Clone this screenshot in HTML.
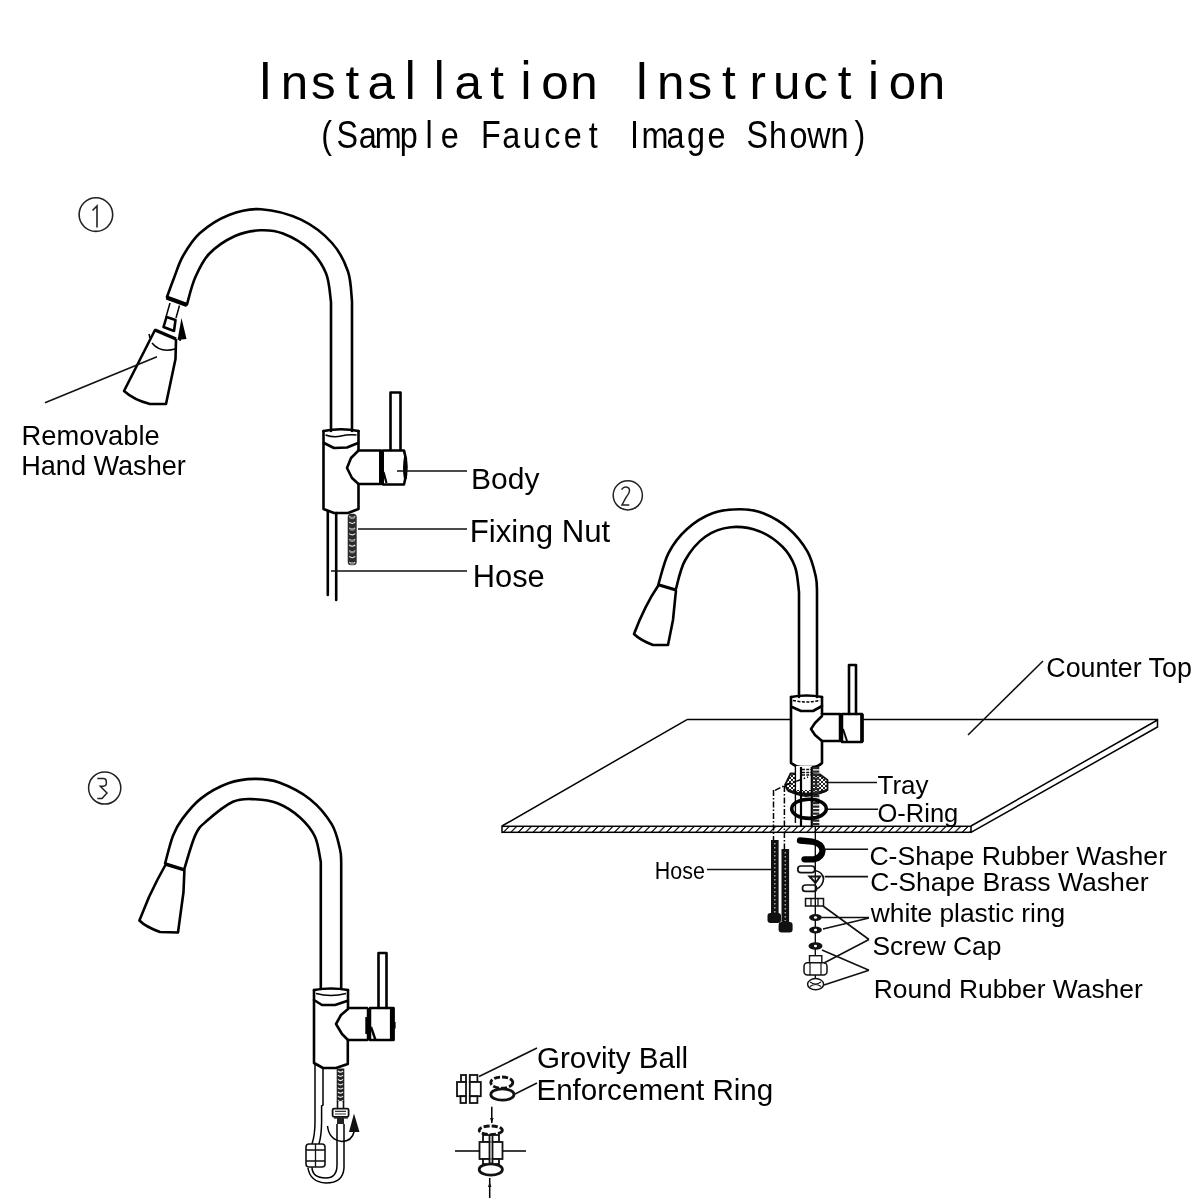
<!DOCTYPE html>
<html><head><meta charset="utf-8"><title>Installation Instruction</title>
<style>
html,body{margin:0;padding:0;background:#fff;}
body{width:1200px;height:1200px;overflow:hidden;}
svg{display:block;filter:grayscale(1);}
.t{font-family:"Liberation Sans",sans-serif;fill:#000;}
.ln{fill:none;stroke:#000;stroke-width:2.6;stroke-linejoin:round;stroke-linecap:round;}
.th{fill:none;stroke:#000;stroke-width:1.5;}
.ld{fill:none;stroke:#111;stroke-width:1.6;}
</style></head>
<body>
<svg width="1200" height="1200" viewBox="0 0 1200 1200">
<rect width="1200" height="1200" fill="#fff"/>
<!-- TITLE -->
<g id="title" class="t">
<text transform="translate(265.4,99.2) scale(0.93,1.0)" text-anchor="middle" font-size="53">I</text>
<text transform="translate(294.4,99.2) scale(0.93,0.9)" text-anchor="middle" font-size="53">n</text>
<text transform="translate(323.3,99.2) scale(0.93,0.9)" text-anchor="middle" font-size="53">s</text>
<text transform="translate(352.3,99.2) scale(0.93,0.9)" text-anchor="middle" font-size="53">t</text>
<text transform="translate(381.2,99.2) scale(0.93,0.9)" text-anchor="middle" font-size="53">a</text>
<text transform="translate(410.2,99.2) scale(0.93,1.0)" text-anchor="middle" font-size="53">l</text>
<text transform="translate(439.2,99.2) scale(0.93,1.0)" text-anchor="middle" font-size="53">l</text>
<text transform="translate(468.1,99.2) scale(0.93,0.9)" text-anchor="middle" font-size="53">a</text>
<text transform="translate(497.1,99.2) scale(0.93,0.9)" text-anchor="middle" font-size="53">t</text>
<text transform="translate(526.0,99.2) scale(0.93,1.0)" text-anchor="middle" font-size="53">i</text>
<text transform="translate(555.0,99.2) scale(0.93,0.9)" text-anchor="middle" font-size="53">o</text>
<text transform="translate(584.0,99.2) scale(0.93,0.9)" text-anchor="middle" font-size="53">n</text>
<text transform="translate(641.9,99.2) scale(0.93,1.0)" text-anchor="middle" font-size="53">I</text>
<text transform="translate(670.8,99.2) scale(0.93,0.9)" text-anchor="middle" font-size="53">n</text>
<text transform="translate(699.8,99.2) scale(0.93,0.9)" text-anchor="middle" font-size="53">s</text>
<text transform="translate(728.8,99.2) scale(0.93,0.9)" text-anchor="middle" font-size="53">t</text>
<text transform="translate(757.7,99.2) scale(0.93,0.9)" text-anchor="middle" font-size="53">r</text>
<text transform="translate(786.7,99.2) scale(0.93,0.9)" text-anchor="middle" font-size="53">u</text>
<text transform="translate(815.6,99.2) scale(0.93,0.9)" text-anchor="middle" font-size="53">c</text>
<text transform="translate(844.6,99.2) scale(0.93,0.9)" text-anchor="middle" font-size="53">t</text>
<text transform="translate(873.6,99.2) scale(0.93,1.0)" text-anchor="middle" font-size="53">i</text>
<text transform="translate(902.5,99.2) scale(0.93,0.9)" text-anchor="middle" font-size="53">o</text>
<text transform="translate(931.5,99.2) scale(0.93,0.9)" text-anchor="middle" font-size="53">n</text>
<text transform="translate(326.7,148.4) scale(0.84,1.0)" text-anchor="middle" font-size="38.5">(</text>
<text transform="translate(347.2,148.4) scale(0.84,1.0)" text-anchor="middle" font-size="38.5">S</text>
<text transform="translate(367.7,148.4) scale(0.84,0.96)" text-anchor="middle" font-size="38.5">a</text>
<text transform="translate(388.2,148.4) scale(0.84,0.96)" text-anchor="middle" font-size="38.5">m</text>
<text transform="translate(408.7,148.4) scale(0.84,0.96)" text-anchor="middle" font-size="38.5">p</text>
<text transform="translate(429.2,148.4) scale(0.84,1.0)" text-anchor="middle" font-size="38.5">l</text>
<text transform="translate(449.8,148.4) scale(0.84,0.96)" text-anchor="middle" font-size="38.5">e</text>
<text transform="translate(490.8,148.4) scale(0.84,1.0)" text-anchor="middle" font-size="38.5">F</text>
<text transform="translate(511.3,148.4) scale(0.84,0.96)" text-anchor="middle" font-size="38.5">a</text>
<text transform="translate(531.8,148.4) scale(0.84,0.96)" text-anchor="middle" font-size="38.5">u</text>
<text transform="translate(552.3,148.4) scale(0.84,0.96)" text-anchor="middle" font-size="38.5">c</text>
<text transform="translate(572.8,148.4) scale(0.84,0.96)" text-anchor="middle" font-size="38.5">e</text>
<text transform="translate(593.3,148.4) scale(0.84,0.96)" text-anchor="middle" font-size="38.5">t</text>
<text transform="translate(634.4,148.4) scale(0.84,1.0)" text-anchor="middle" font-size="38.5">I</text>
<text transform="translate(654.9,148.4) scale(0.84,0.96)" text-anchor="middle" font-size="38.5">m</text>
<text transform="translate(675.4,148.4) scale(0.84,0.96)" text-anchor="middle" font-size="38.5">a</text>
<text transform="translate(695.9,148.4) scale(0.84,0.96)" text-anchor="middle" font-size="38.5">g</text>
<text transform="translate(716.4,148.4) scale(0.84,0.96)" text-anchor="middle" font-size="38.5">e</text>
<text transform="translate(757.4,148.4) scale(0.84,1.0)" text-anchor="middle" font-size="38.5">S</text>
<text transform="translate(777.9,148.4) scale(0.84,0.96)" text-anchor="middle" font-size="38.5">h</text>
<text transform="translate(798.4,148.4) scale(0.84,0.96)" text-anchor="middle" font-size="38.5">o</text>
<text transform="translate(818.9,148.4) scale(0.84,0.96)" text-anchor="middle" font-size="38.5">w</text>
<text transform="translate(839.5,148.4) scale(0.84,0.96)" text-anchor="middle" font-size="38.5">n</text>
<text transform="translate(860.0,148.4) scale(0.84,1.0)" text-anchor="middle" font-size="38.5">)</text>
</g>
<!-- FAUCET 1 -->
<g id="f1">
<circle cx="95.9" cy="214.6" r="16.8" fill="none" stroke="#222" stroke-width="1.6"/>
<path d="M92.5,210.5 L97,206 V227.5" fill="none" stroke="#222" stroke-width="1.6"/>
<!-- spout -->
<path class="ln" d="M167.0,297.0 C168.2,293.8 171.3,284.8 174.0,278.0 C176.7,271.2 178.7,263.5 183.0,256.0 C187.3,248.5 192.3,239.8 200.0,233.0 C207.7,226.2 218.8,219.0 229.0,215.0 C239.2,211.0 249.0,208.4 261.0,209.2 C273.0,210.0 289.2,214.1 301.0,219.7 C312.8,225.3 324.2,234.4 332.0,243.0 C339.8,251.6 344.7,261.8 348.0,271.5 C351.3,281.2 351.3,296.1 352.0,301.0 V431"/>
<path class="ln" d="M187.0,304.5 C188.3,300.1 191.3,286.4 195.0,278.0 C198.7,269.6 202.3,261.0 209.0,254.0 C215.7,247.0 226.5,239.9 235.0,236.0 C243.5,232.1 252.0,230.7 260.0,230.3 C268.0,229.9 274.8,230.3 283.0,233.5 C291.2,236.7 302.3,242.9 309.5,249.5 C316.7,256.1 322.4,264.6 326.0,273.3 C329.6,282.1 330.2,297.2 331.0,302.0 V431"/>
<path d="M166.5,297.5 L187,305" stroke="#000" stroke-width="4.2" fill="none"/>
<!-- connector -->
<path class="th" d="M170,303 L166,317 M179.5,305.5 L176,318" stroke-width="1.8"/>
<path class="ln" d="M166.5,317 L175.5,320 L174,331 L163.5,327 Z" stroke-width="2.2"/>
<path d="M181.5,318 L177.5,340 L186.5,339 Z" fill="#000"/>
<path d="M181,334 L180,341" stroke="#000" stroke-width="1.5"/>
<!-- spray head -->
<path d="M155,330 L176,339" stroke="#000" stroke-width="3.5" fill="none"/>
<path class="ln" d="M155,330 L124,391 Q134,400 150,404 L166,404 L175.5,359 L176,340"/>
<path class="th" d="M152,343 Q160,353 175,349" stroke-width="1.8"/>
<path class="th" d="M149,334 L150,338" stroke-width="1.5"/>
<path class="ld" d="M45,402.7 L157,356.7"/>
<text class="t" font-size="27.3" x="21.6" y="444.6">Removable</text>
<text class="t" font-size="27.1" x="21.2" y="474.9">Hand Washer</text>
<!-- body -->
<path class="ln" d="M323.5,431 V509 L334,513 H348 L358.5,509 V484 M358.5,450.5 V431"/>
<path class="ln" d="M323.5,431 Q341,427.5 358.5,431"/>
<path class="th" d="M325.5,435 Q334,438 341,436 Q349,434 356.5,435" stroke-width="2.2"/>
<path class="ln" d="M324,443 L334,448 L347,447.5 L358,443"/>
<path class="ln" d="M358.5,450.5 H381 M358.5,484 H381 M358.5,450.5 L351,458 L347,468 L352,478 L358.5,484"/>
<path class="ln" d="M383,450.5 H404 Q409,467 404,484.5 H383"/>
<path d="M381.5,451 V484" stroke="#000" stroke-width="5" fill="none"/><path d="M383.5,472 L386.5,483" stroke="#000" stroke-width="2.2" fill="none"/>
<path d="M405.5,457 Q403.5,468 405.5,479" stroke="#000" stroke-width="3" fill="none"/>
<path class="ln" d="M390.5,450 V392.5 H400.5 V450"/>
<!-- hoses -->
<path class="ln" d="M327.8,511 V595 M336.2,513 V600"/>
<rect x="347.7" y="513.7" width="9" height="51.5" rx="3.5" fill="#2b2b2b"/>
<path d="M349.2,516.5 Q352.2,519.1 355.2,516.5 M349.2,522.2 Q352.2,524.8 355.2,522.2 M349.2,527.9 Q352.2,530.5 355.2,527.9 M349.2,533.6 Q352.2,536.2 355.2,533.6 M349.2,539.3 Q352.2,541.9 355.2,539.3 M349.2,545.0 Q352.2,547.6 355.2,545.0 M349.2,550.7 Q352.2,553.3 355.2,550.7 M349.2,556.4 Q352.2,559.0 355.2,556.4 M349.2,562.1 Q352.2,564.7 355.2,562.1" fill="none" stroke="#e8e8e8" stroke-width="1.1"/>
<ellipse cx="352.2" cy="518.0" rx="2.6" ry="1.3" fill="#8a8a8a"/><ellipse cx="352.2" cy="529.4" rx="2.6" ry="1.3" fill="#8a8a8a"/><ellipse cx="352.2" cy="540.8" rx="2.6" ry="1.3" fill="#8a8a8a"/><ellipse cx="352.2" cy="552.2" rx="2.6" ry="1.3" fill="#8a8a8a"/><ellipse cx="352.2" cy="563.6" rx="2.6" ry="1.3" fill="#8a8a8a"/>
<path class="ld" d="M397,471 H467 M358,529 H467 M331,571 H467"/>
<text class="t" font-size="30" x="471" y="489">Body</text>
<text class="t" font-size="31.2" x="469.8" y="541.7">Fixing Nut</text>
<text class="t" font-size="30.8" x="472.8" y="587">Hose</text>
</g>
<!-- FAUCET 2 -->
<g id="f2">
<defs>
<pattern id="hatch" patternUnits="userSpaceOnUse" width="7.4" height="7.4" patternTransform="skewX(-45)">
<rect width="7.4" height="7.4" fill="#fff"/>
<line x1="3.7" y1="0" x2="3.7" y2="7.4" stroke="#000" stroke-width="1.6"/>
</pattern>
</defs>
<circle cx="627.8" cy="495.3" r="14.6" fill="none" stroke="#222" stroke-width="1.5"/>
<path d="M621.5,489.6 Q623.5,486.8 626,487 Q629.8,487.5 629.5,491 Q629,494 626,497.5 L622,505 H629.3" fill="none" stroke="#222" stroke-width="1.5"/>
<!-- counter top -->
<path class="th" d="M687,719.6 H791 M863,719.6 H1157.5 V727 L971,832.4 M1157.5,720 L971,826 M687,719.6 L502,826" stroke-width="1.35"/>
<rect x="502" y="826.3" width="469" height="6" fill="url(#hatch)" stroke="#000" stroke-width="1.5"/>
<path class="ld" d="M968,735 L1043,661" stroke-width="1.3"/>
<text class="t" font-size="26.8" x="1046.3" y="677">Counter Top</text>
<!-- spout -->
<path class="ln" d="M658.4,584.3 C660.1,579.1 663.8,562.4 668.5,553.2 C673.2,544.0 679.5,535.9 686.8,529.3 C694.1,522.6 703.6,516.6 712.5,513.3 C721.4,509.9 731.5,509.2 740.0,509.2 C748.5,509.2 755.2,510.1 763.3,513.3 C771.3,516.5 780.9,521.9 788.3,528.3 C795.7,534.7 802.9,543.6 807.5,551.7 C812.1,559.8 814.2,570.0 815.8,576.7 C817.4,583.4 816.8,589.5 817.0,592.0 V697" stroke-width="2.1"/>
<path class="ln" d="M675.8,589.4 C677.3,584.6 680.1,569.3 685.0,560.5 C689.9,551.7 697.6,542.2 705.2,536.7 C712.8,531.2 721.8,528.1 730.8,527.2 C739.8,526.3 750.6,528.0 759.2,531.2 C767.8,534.5 776.5,540.8 782.5,546.7 C788.5,552.6 792.2,559.2 795.0,566.7 C797.8,574.2 798.3,587.8 799.0,592.0 V697" stroke-width="2.1"/>
<path d="M658.3,584.7 L676,590" stroke="#000" stroke-width="3.2" fill="none"/>
<path class="ln" d="M658.3,585.5 Q645,605 634,634 Q640,640 653,645 L668,645 L673,620 L675.3,597 L676,591" stroke-width="2.1"/>
<!-- body -->
<path class="ln" d="M791,697 V763 Q796,767 801,767 H812 Q818,767 822,763 V741 M822,714 V697" stroke-width="2.1"/>
<path class="ln" d="M791,697 Q806.5,694 822,697" stroke-width="2.1"/>
<path class="th" d="M793,700.5 Q806,703.5 820,700.5" stroke-width="2" stroke-dasharray="3 1.5"/>
<path class="ln" d="M792,707 L801,711 H813 L822,706" stroke-width="2.1"/>
<path class="ln" d="M822,714 H840 M822,741 H840 M822,716 L815,723 L811,729 L815,735 L822,741" stroke-width="2.1"/>
<path class="ln" d="M842,714 H862 V742 H842" stroke-width="2.1"/>
<path d="M841,714 V742" stroke="#000" stroke-width="4.5" fill="none"/><path d="M843,729 L847,741" stroke="#000" stroke-width="2" fill="none"/>
<path d="M862,714 V742" stroke="#000" stroke-width="3.6" fill="none"/>
<path class="ln" d="M849,714 V665 H856 V714" stroke-width="2.2"/>
<!-- under body -->
<defs><pattern id="xh" patternUnits="userSpaceOnUse" width="4" height="4"><rect width="4" height="4" fill="#fff"/><path d="M0,4 L4,0 M0,0 L4,4" stroke="#222" stroke-width="1"/></pattern></defs>
<path d="M790.6,773.5 L785,785 L787.5,790 Q796.5,795.5 806,796 Q818,795.5 827.5,790 L827.5,780 L820,774.5 Z" fill="url(#xh)" stroke="#111" stroke-width="1.8"/>

<rect x="795.4" y="766" width="16.3" height="24" fill="#fff"/><path d="M788,790.5 Q806,797.5 826.5,790.5" fill="none" stroke="#111" stroke-width="2.6"/>
<path d="M795.4,766 V823" stroke="#000" stroke-width="1.4" fill="none"/>
<path d="M801,767 V826.5 M811.8,767 V826.5" stroke="#000" stroke-width="2.2" fill="none"/>
<path d="M802,769.5 H811 M802,772.5 H811 M802,775 H811" stroke="#111" stroke-width="1.6" stroke-dasharray="3 1.2" fill="none"/>
<path d="M815.8,767 V826" stroke="#2a2a2a" stroke-width="7" stroke-dasharray="2.2 1.3" fill="none"/>
<path d="M815.3,826 V990" stroke="#000" stroke-width="1.3" fill="none"/>
<path class="th" d="M773.5,790 V840 M784.4,786 V849 M775,790.3 L784.3,785.7 L808,777" stroke-width="1.3" stroke-dasharray="6 2 1.5 2"/>
<ellipse cx="809" cy="808.8" rx="17.3" ry="9.6" fill="none" stroke="#000" stroke-width="3.6"/>
<!-- hoses -->
<rect x="771" y="840" width="7.6" height="76" fill="#111"/>
<path d="M774.8,843 V913" stroke="#bbb" stroke-width="1.3" stroke-dasharray="1.5 2.5"/>
<rect x="767.5" y="913" width="13.5" height="10" rx="3" fill="#111"/>
<rect x="781.5" y="849" width="7.6" height="75" fill="#111"/>
<path d="M785.3,852 V921" stroke="#bbb" stroke-width="1.3" stroke-dasharray="1.5 2.5"/>
<rect x="778.6" y="922" width="14" height="10.5" rx="3" fill="#111"/>
<path class="ld" d="M707,869.5 H771" stroke-width="1.4"/>
<text class="t" font-size="23.5" transform="scale(0.912,1)" x="718.0" y="878.7">Hose</text>
<!-- washers -->
<path d="M800,840.5 L812,841.5 Q822,843.5 822.5,850.5 Q822,857.5 814,859.3 L804.5,859.3" fill="none" stroke="#000" stroke-width="6.3" stroke-linecap="round"/>
<g fill="none" stroke="#111" stroke-width="1.7"><rect x="797.8" y="866" width="17" height="6.6" rx="3.2"/><rect x="802.5" y="885" width="14" height="6.4" rx="3"/><path d="M815,870.5 Q823,872 823.5,879 Q823,886 816.5,889"/><path d="M809.5,876.5 H820 L815.5,883 Z" stroke-width="2"/></g>
<path class="ld" d="M827.6,782.5 H877 M827,809.3 H878 M823.5,849.2 H868 M824.7,876.6 H868" stroke-width="1.5"/>
<rect x="805.5" y="898.5" width="18" height="7.5" fill="none" stroke="#111" stroke-width="1.5"/>
<path d="M811,898.5 V906 M818,898.5 V906" stroke="#111" stroke-width="1.3"/>
<ellipse cx="815.5" cy="917.5" rx="6.4" ry="3.4" fill="#111"/>
<ellipse cx="815.5" cy="930" rx="6.4" ry="3.4" fill="#111"/>
<ellipse cx="815.5" cy="946" rx="7" ry="3.8" fill="#111"/>
<ellipse cx="815.5" cy="917.5" rx="1.6" ry="1.2" fill="#fff"/>
<ellipse cx="815.5" cy="930" rx="1.6" ry="1.2" fill="#fff"/>
<ellipse cx="815.5" cy="946" rx="1.6" ry="1.2" fill="#fff"/>
<rect x="809.5" y="955.7" width="12.3" height="7" fill="#fff" stroke="#111" stroke-width="1.4"/>
<rect x="804" y="962.7" width="23" height="12.3" rx="3.5" fill="#fff" stroke="#111" stroke-width="1.5"/>
<path d="M810,963 V975 M821,963 V975" stroke="#111" stroke-width="1.2"/>
<ellipse cx="815.6" cy="984.2" rx="8" ry="5.6" fill="#fff" stroke="#111" stroke-width="1.5"/>
<path d="M810,982 Q815.6,986 821,982 M810,986.5 Q815.6,982.5 821,986.5" stroke="#111" stroke-width="1.2" fill="none"/>
<path class="ld" d="M822,917.5 H869 M823,929 L869,918 M823,906 L869,939.5 M824,963 L869,939.5 M822,950 L869,970.3 M824,985 L869,970.3" stroke-width="1.3"/>
<text class="t" font-size="26" x="877.5" y="794.1">Tray</text>
<text class="t" font-size="25.5" x="877.5" y="821.9">O-Ring</text>
<text class="t" font-size="26.6" x="869.4" y="865.2">C-Shape Rubber Washer</text>
<text class="t" font-size="26.6" x="870.2" y="891.3">C-Shape Brass Washer</text>
<text class="t" font-size="26.3" x="870.8" y="922">white plastic ring</text>
<text class="t" font-size="26.4" x="872.4" y="955.3">Screw Cap</text>
<text class="t" font-size="26.4" x="873.8" y="998">Round Rubber Washer</text>
</g>
<!-- FAUCET 3 -->
<g id="f3">
<circle cx="104.7" cy="788" r="16.1" fill="none" stroke="#222" stroke-width="1.5"/>
<path d="M97.3,778.5 H103.3 Q106.3,778.5 106.3,781.5 V784 Q106,786 103.5,786.2 H100.3 L107,793 L102,798.5 H97.3" fill="none" stroke="#222" stroke-width="1.5"/>
<!-- spout -->
<path class="ln" d="M165.1,863.5 C166.4,858.9 170.0,843.5 172.9,836.0 C175.8,828.5 177.8,824.8 182.5,818.6 C187.2,812.4 193.2,804.5 200.8,798.6 C208.4,792.7 219.3,786.6 228.3,783.3 C237.3,780.0 246.5,779.0 255.0,778.9 C263.5,778.8 270.0,779.1 279.2,782.5 C288.4,785.9 301.2,792.2 310.0,799.2 C318.8,806.2 326.7,815.9 331.7,824.2 C336.7,832.5 338.4,842.9 340.0,849.2 C341.6,855.5 341.0,859.9 341.2,862.0 V989" stroke-width="2.3"/>
<path class="ln" d="M184.3,869.0 C186.1,863.4 191.6,843.1 195.3,835.1 C199.0,827.1 200.0,826.8 206.3,821.3 C212.6,815.8 224.8,805.5 232.9,801.8 C241.0,798.1 247.6,799.0 255.0,799.2 C262.4,799.5 270.0,800.2 277.5,803.3 C285.0,806.3 293.8,811.9 300.0,817.5 C306.2,823.1 311.5,829.3 315.0,836.7 C318.5,844.1 319.8,857.8 320.8,862.0 V989" stroke-width="2.3"/>
<path d="M165.4,864 L184.4,869.8" stroke="#000" stroke-width="3.4" fill="none"/>
<path class="ln" d="M165.4,865 L157.3,880 L149,897 L139.4,920.5 Q146,927 160,932 L178,932.5 L180.5,914 L183.5,892 L184.4,870.5" stroke-width="2.3"/>
<!-- body -->
<path class="ln" d="M314,990 V1063 L323,1068 H336 L347.8,1064 V1040 M348,1008 V990"/>
<path class="ln" d="M314,990 Q331,987 348,990"/>
<path class="th" d="M316,993.5 Q331,997.5 346,993.5" stroke-width="2.2"/>
<path class="ln" d="M314,1000 L322,1005 H335 L347,1001"/>
<path class="ln" d="M348,1008 H367 M348,1040 H367 M348,1009 L341,1015 L336,1024 L342,1034 L348,1040"/>
<path class="ln" d="M370,1008 H393.5 V1040 H370"/>
<path d="M369,1008 V1040.5" stroke="#000" stroke-width="4.5" fill="none"/><rect x="365.3" y="1017" width="4" height="17" fill="#000"/><path d="M371,1027 L375.5,1040" stroke="#000" stroke-width="2.4" fill="none"/>
<path d="M392.2,1008 V1040.5" stroke="#000" stroke-width="4.6" fill="none"/><rect x="392" y="1022" width="3.6" height="6.5" fill="#000"/>
<path class="ln" d="M378.5,1008 V953 H386.5 V1008" stroke-width="2.4"/>
<!-- below body -->
<path class="th" d="M315,1064 V1122 Q315,1135 312,1144 M323,1068.5 V1105 L321.6,1106 V1122 Q321.5,1135 319,1144" stroke-width="1.6"/>
<rect x="336.7" y="1068.5" width="7.6" height="33" fill="#222"/>
<path d="M338,1071.0 Q340.5,1073.4 343,1071.0 M338,1075.2 Q340.5,1077.6 343,1075.2 M338,1079.4 Q340.5,1081.8 343,1079.4 M338,1083.6 Q340.5,1086.0 343,1083.6 M338,1087.8 Q340.5,1090.2 343,1087.8 M338,1092.0 Q340.5,1094.4 343,1092.0 M338,1096.2 Q340.5,1098.6 343,1096.2 M338,1100.4 Q340.5,1102.8 343,1100.4" fill="none" stroke="#f0f0f0" stroke-width="1.1"/>
<path d="M337.5,1101 V1108.3 M343.5,1101 V1108.3" stroke="#111" stroke-width="1.6"/>
<rect x="332.6" y="1108.6" width="16" height="8.2" rx="1.5" fill="none" stroke="#111" stroke-width="1.8"/><path d="M335,1111.3 H346 M335,1114 H346" stroke="#333" stroke-width="1.2"/><path d="M334,1118 H348" stroke="#111" stroke-width="1.2"/>
<rect x="337" y="1118" width="7" height="6" fill="#222"/>
<path class="th" d="M337,1124 V1165 Q337,1178 326,1178 Q312,1178 312,1167 M344,1124 V1168 Q343,1183 326,1183 Q310,1182 308,1168" stroke-width="1.5"/>
<rect x="306" y="1144" width="19" height="23" rx="3" fill="none" stroke="#111" stroke-width="1.6"/>
<path d="M306,1150 H325 M306,1161 H325 M315.5,1144 V1167" stroke="#111" stroke-width="1.3"/>
<path d="M354,1113.5 L349,1132 L359.5,1132 Z" fill="#111"/>
<path class="th" d="M327.5,1126 Q329,1140 342,1141.5 Q352,1141 354,1132" stroke-width="1.3"/>
</g>
<!-- gravity ball -->
<g id="gb">
<path class="ld" d="M479,1076.5 L537,1048 M515,1094 L537,1083" stroke-width="1.3"/>
<text class="t" font-size="29.6" x="536.9" y="1068.4">Grovity Ball</text>
<text class="t" font-size="29.6" x="536.4" y="1099.6">Enforcement Ring</text>
<g fill="#fff" stroke="#111" stroke-width="1.8">
<rect x="461" y="1075" width="5" height="7"/><rect x="457" y="1082" width="9" height="14.2"/><rect x="460.5" y="1096.2" width="5.5" height="6.8"/>
<rect x="469.8" y="1075" width="7.6" height="7"/><rect x="469.8" y="1082" width="11" height="14.2"/><rect x="469.8" y="1096.2" width="7.6" height="6.8"/>
</g>
<g fill="none" stroke="#111" stroke-width="2.8">
<ellipse cx="501.8" cy="1082.6" rx="11" ry="5.6" stroke-dasharray="6 2"/>
<ellipse cx="502.4" cy="1094.5" rx="11.6" ry="5.6"/>
</g>
<path class="th" d="M491.8,1106.7 V1123" stroke-width="1.5"/>
<path d="M490,1118 L491.8,1123 L493.6,1118 Z" fill="#111"/>
<g fill="none" stroke="#111" stroke-width="2.8">
<ellipse cx="490.8" cy="1130.3" rx="11.6" ry="4.3" stroke-dasharray="6 2"/>
<ellipse cx="490.8" cy="1169.5" rx="11.6" ry="5.6"/>
</g>
<g fill="#fff" stroke="#111" stroke-width="1.8">
<rect x="483" y="1135" width="6.5" height="7"/><rect x="479.5" y="1142" width="10" height="17"/><rect x="483" y="1159" width="6.5" height="5"/>
<rect x="492.5" y="1135" width="6.5" height="7"/><rect x="492.5" y="1142" width="10" height="17"/><rect x="492.5" y="1159" width="6.5" height="5"/>
</g>
<path class="th" d="M455,1151 H479.5 M502.5,1151 H526 M489.7,1178 V1198" stroke-width="1.5"/>
<path d="M488,1187 L489.7,1182 L491.4,1187 Z" fill="#111"/>
</g>
</svg>
</body></html>
